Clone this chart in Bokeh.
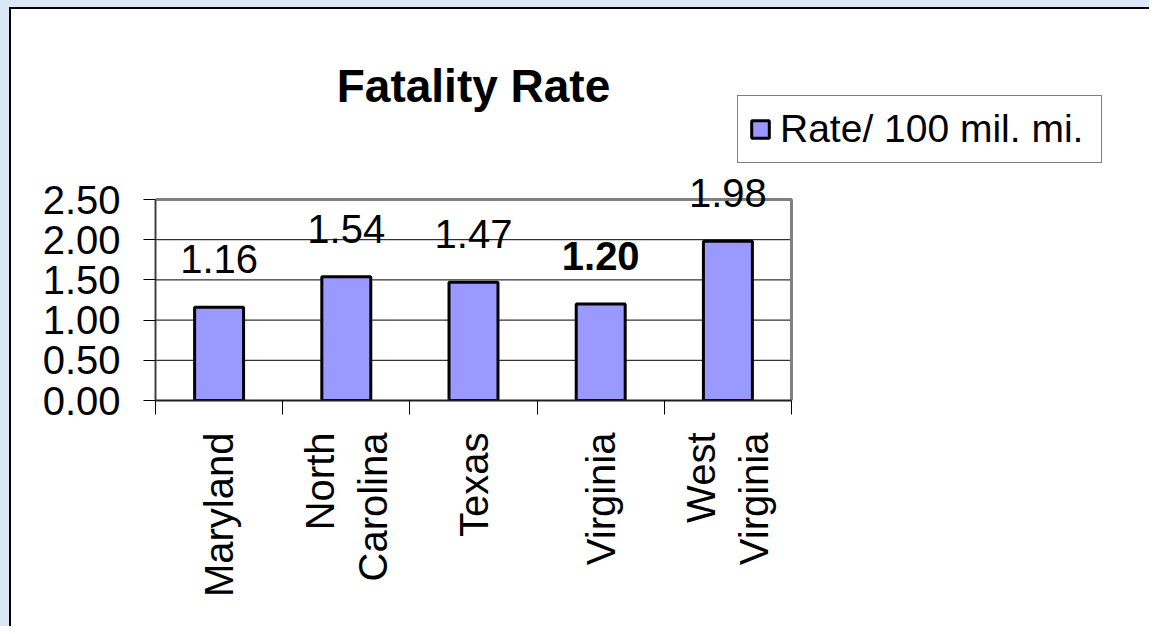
import math
from bokeh.plotting import figure
from bokeh.models import (ColumnDataSource, Range1d, FixedTicker, LabelSet, Label,
                          Legend, LegendItem, PrintfTickFormatter)
from bokeh.core.properties import value, field
from bokeh.embed import file_html
from bokeh.resources import INLINE

# ---- data ----
categories = ["Maryland", "North Carolina", "Texas", "Virginia", "West Virginia"]
tick_labels = ["Maryland", "North\nCarolina", "Texas", "Virginia", "West\nVirginia"]
rates = [1.16, 1.54, 1.47, 1.20, 1.98]
y_ticks = [0.0, 0.5, 1.0, 1.5, 2.0, 2.5]
series_name = "Rate/ 100 mil. mi."
title_text = "Fatality Rate"
highlighted = "Virginia"

FONT = "Liberation Sans"

# ---- layout (pixels) ----
W, H = 1149, 626
LEFT, BOTTOM = 155, 226          # frame offsets
PLOT_W, PLOT_H = 636, 201        # size of the category / value area
FRAME_W = W - LEFT
FRAME_H = H - BOTTOM

n = len(categories)
y_max = y_ticks[-1]
centers = [i + 0.5 for i in range(n)]
boundaries = [float(i) for i in range(n + 1)]

source = ColumnDataSource(dict(
    x=centers,
    rate=rates,
    cat=categories,
    label=[f"{v:.2f}" for v in rates],
    style=["bold" if c == highlighted else "normal" for c in categories],
))

p = figure(width=W, height=H,
           x_range=Range1d(0, n * FRAME_W / PLOT_W),
           y_range=Range1d(0, y_max * FRAME_H / PLOT_H),
           output_backend="svg", toolbar_location=None,
           min_border_left=LEFT, min_border_right=0,
           min_border_top=0, min_border_bottom=BOTTOM)

# slide background strip + chart box border, painted behind a transparent canvas
p.styles = {
    "background": ("linear-gradient(to right, #d9e7f6 0 9px, transparent 9px), "
                   "linear-gradient(to bottom, #d9e7f6 0 7px, #000 7px 9px, transparent 9px), "
                   "linear-gradient(to right, transparent 0 9px, #000 9px 11px, #fff 11px)"),
}
p.background_fill_color = None
p.border_fill_color = None
p.outline_line_color = None
p.xgrid.visible = False
p.ygrid.visible = False

# horizontal gridlines (below the top border)
grid_y = y_ticks[1:-1]
p.segment(x0=[0] * len(grid_y), x1=[n] * len(grid_y), y0=grid_y, y1=grid_y,
          line_color="black", line_width=1)

# plot-area border (top and right, gray)
p.line(x=[0, n, n], y=[y_max, y_max, 0], line_color="#808080", line_width=3)

r = p.vbar(x="x", top="rate", width=0.385, source=source,
           fill_color="#9999FF", line_color="black", line_width=3)

labels = LabelSet(x="x", y="rate", text="label", source=source,
                  text_align="center", text_baseline="alphabetic", y_offset=34,
                  text_font=value(FONT), text_font_size=value("40px"),
                  text_font_style=field("style"), text_color="black")
p.add_layout(labels)

title = Label(x=n / 2, y=y_max, y_offset=114, text=title_text,
              text_align="center", text_baseline="alphabetic",
              text_font=FONT, text_font_size="46px", text_font_style="bold",
              text_color="black")
p.add_layout(title)

# y axis
p.yaxis.bounds = (0, y_max)
p.yaxis.ticker = FixedTicker(ticks=y_ticks)
p.yaxis.formatter = PrintfTickFormatter(format="%.2f")
p.yaxis.major_label_text_font = FONT
p.yaxis.major_label_text_font_size = "40px"
p.yaxis.major_label_text_color = "black"
p.yaxis.major_tick_out = 12
p.yaxis.major_tick_in = 0
p.yaxis.major_tick_line_color = "black"
p.yaxis.minor_tick_line_color = None
p.yaxis.axis_line_color = "#404040"
p.yaxis.axis_line_width = 2
p.yaxis.major_label_standoff = 23

# x axis: labels at centers, tick marks at category boundaries
p.xaxis.bounds = (0, n)
p.xaxis.ticker = FixedTicker(ticks=centers, minor_ticks=boundaries)
p.xaxis.major_label_overrides = {c: t for c, t in zip(centers, tick_labels)}
p.xaxis.major_label_orientation = math.pi / 2
p.xaxis.major_label_text_font = FONT
p.xaxis.major_label_text_font_size = "40px"
p.xaxis.major_label_text_color = "black"
p.xaxis.major_tick_out = 0
p.xaxis.major_tick_in = 0
p.xaxis.minor_tick_out = 14
p.xaxis.minor_tick_in = 0
p.xaxis.minor_tick_line_color = "black"
p.xaxis.axis_line_color = "#202020"
p.xaxis.axis_line_width = 2
p.xaxis.major_label_standoff = 18

legend = Legend(items=[LegendItem(label=series_name, renderers=[r])],
                location=(737 - LEFT, FRAME_H - 163),
                label_text_font=FONT, label_text_font_size="39px",
                label_text_color="black", label_width=310,
                glyph_width=22, glyph_height=22, label_standoff=9,
                padding=11, spacing=0, margin=0,
                border_line_color="black", border_line_width=1,
                background_fill_color="white", background_fill_alpha=1.0)
p.add_layout(legend)

open("out.html", "w").write(file_html(p, INLINE))
